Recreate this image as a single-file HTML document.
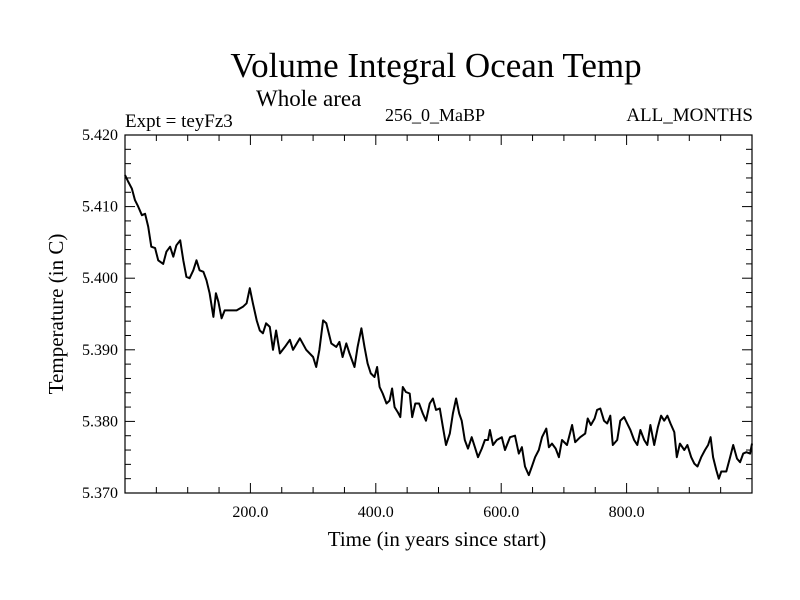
<!DOCTYPE html>
<html><head><meta charset="utf-8"><style>
body{margin:0;background:#fff}
svg{display:block;font-family:"Liberation Serif",serif}
</style></head><body>
<svg id="c" width="800" height="600">
<text x="436" y="77" font-size="35" text-anchor="middle">Volume Integral Ocean Temp</text>
<text x="256" y="106" font-size="23">Whole area</text>
<text x="125" y="127" font-size="19">Expt = teyFz3</text>
<text x="385" y="121" font-size="18">256_0_MaBP</text>
<text x="753" y="121" font-size="19" text-anchor="end">ALL_MONTHS</text>
<text x="437" y="546" font-size="21" text-anchor="middle">Time (in years since start)</text>
<text transform="translate(63,314) rotate(-90)" font-size="21" text-anchor="middle">Temperature (in C)</text>
<g id="axes"></g>
<path id="line" fill="none" stroke="#000" stroke-width="2" stroke-linejoin="round"/>
<rect x="125" y="135" width="627" height="358" fill="none" stroke="#000" stroke-width="1.2"/>
</svg>
<script>
const years=[0,5,11,16,21,27,32,37,42,48,53,61,66,72,77,82,88,93,98,103,109,114,119,125,130,135,141,145,149,154,159,167,178,188,194,199,204,210,215,220,225,231,236,241,247,255,263,268,279,289,300,305,310,316,321,329,337,342,347,353,358,366,371,377,382,387,392,398,402,406,411,417,422,426,430,435,439,443,448,454,458,463,469,475,480,486,491,496,502,507,512,518,523,528,533,537,542,547,553,558,563,569,574,579,582,587,593,601,606,614,622,628,633,638,644,649,654,660,665,672,676,681,687,692,697,705,713,718,726,734,738,743,749,753,758,764,769,774,778,785,790,796,801,806,812,817,822,828,833,838,844,850,855,860,865,870,876,880,885,892,897,903,908,913,919,925,930,934,938,943,947,951,959,965,970,976,981,986,991,997,1000];
const temps=[5.4144,5.4135,5.4125,5.4109,5.4100,5.4088,5.4090,5.4072,5.4044,5.4042,5.4025,5.4020,5.4037,5.4044,5.4030,5.4046,5.4053,5.4025,5.4002,5.4000,5.4011,5.4025,5.4011,5.4009,5.3997,5.3979,5.3946,5.3979,5.3967,5.3944,5.3955,5.3955,5.3955,5.3960,5.3965,5.3986,5.3965,5.3941,5.3927,5.3923,5.3937,5.3932,5.3900,5.3927,5.3895,5.3904,5.3914,5.3900,5.3916,5.3900,5.3890,5.3876,5.3900,5.3941,5.3937,5.3909,5.3904,5.3911,5.3890,5.3909,5.3895,5.3876,5.3904,5.3930,5.3904,5.3881,5.3867,5.3862,5.3876,5.3848,5.3839,5.3825,5.3829,5.3846,5.3820,5.3813,5.3806,5.3848,5.3841,5.3839,5.3806,5.3825,5.3825,5.3811,5.3801,5.3825,5.3832,5.3816,5.3818,5.3792,5.3767,5.3783,5.3811,5.3832,5.3811,5.3801,5.3774,5.3762,5.3778,5.3764,5.3750,5.3762,5.3774,5.3774,5.3788,5.3767,5.3774,5.3778,5.3760,5.3778,5.3780,5.3755,5.3764,5.3737,5.3725,5.3737,5.3750,5.3760,5.3778,5.3790,5.3764,5.3769,5.3762,5.3750,5.3774,5.3767,5.3795,5.3771,5.3778,5.3783,5.3804,5.3795,5.3804,5.3816,5.3818,5.3801,5.3797,5.3808,5.3767,5.3774,5.3801,5.3806,5.3797,5.3788,5.3774,5.3767,5.3788,5.3774,5.3767,5.3795,5.3767,5.3792,5.3808,5.3801,5.3808,5.3797,5.3785,5.3750,5.3769,5.3760,5.3767,5.3750,5.3741,5.3737,5.3750,5.3760,5.3767,5.3778,5.3750,5.3732,5.3720,5.3730,5.3730,5.3750,5.3767,5.3748,5.3743,5.3755,5.3757,5.3755,5.3769];
const xTicks=[200,400,600,800];
const xTickLabels=["200.0","400.0","600.0","800.0"];
const yTicks=[5.370,5.380,5.390,5.400,5.410,5.420];
const yTickLabels=["5.370","5.380","5.390","5.400","5.410","5.420"];
const X0=125,X1=752,Y0=493,Y1=135,xmin=0,xmax=1000,ymin=5.370,ymax=5.420;
const sx=v=>X0+(v-xmin)/(xmax-xmin)*(X1-X0);
const sy=v=>Y0-(v-ymin)/(ymax-ymin)*(Y0-Y1);
const NS="http://www.w3.org/2000/svg",ax=document.getElementById('axes');
function ln(x1,y1,x2,y2,name){const l=document.createElementNS(NS,'line');
l.setAttribute('x1',x1);l.setAttribute('y1',y1);l.setAttribute('x2',x2);l.setAttribute('y2',y2);
l.setAttribute('stroke','#000');l.setAttribute('stroke-width','1');


ax.appendChild(l);}
function tx(x,y,s,anchor,name){const t=document.createElementNS(NS,'text');
t.setAttribute('x',x);t.setAttribute('y',y);t.setAttribute('font-size','16');t.setAttribute('text-anchor',anchor);t.textContent=s;


ax.appendChild(t);}
for(let v=50;v<xmax;v+=50){const x=sx(v),L=(v%200===0)?10:6;
ln(x,Y0,x,Y0-L,'x-tick');ln(x,Y1,x,Y1+L,'x-tick-top');}
for(let i=0;i<=25;i++){const v=ymin+i*0.002,y=sy(v),maj=(i%5===0),L=maj?10:6;
ln(X0,y,X0+L,y,'y-tick');ln(X1,y,X1-L,y,'y-tick-right');}
xTicks.forEach((v,i)=>tx(sx(v),517,xTickLabels[i],'middle','x-tick-label'));
yTicks.forEach((v,i)=>tx(118,sy(v)+5,yTickLabels[i],'end','y-tick-label'));
document.getElementById('line').setAttribute('d',years.map((y,i)=>(i?'L':'M')+sx(y).toFixed(1)+','+sy(temps[i]).toFixed(1)).join(''));
</script>
</body></html>
